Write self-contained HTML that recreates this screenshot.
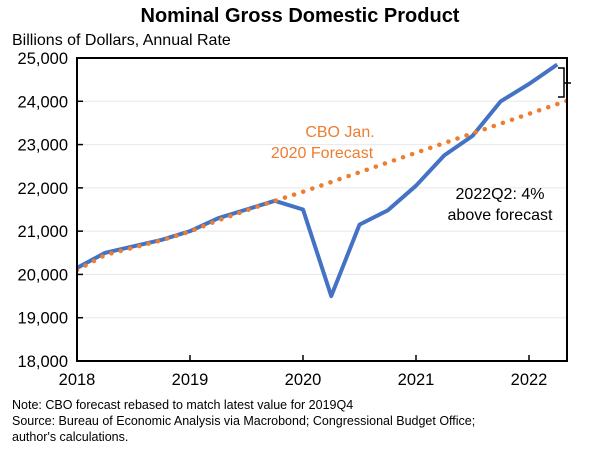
<!DOCTYPE html>
<html><head><meta charset="utf-8"><style>
body{margin:0;background:#fff;font-family:"Liberation Sans",sans-serif}
svg text{font-family:"Liberation Sans",sans-serif}
</style></head><body>
<svg id="c" width="601" height="451" xmlns="http://www.w3.org/2000/svg">
<text x="300" y="22" text-anchor="middle" font-size="20" font-weight="bold">Nominal Gross Domestic Product</text>
<text x="12" y="45" font-size="16">Billions of Dollars, Annual Rate</text>
<g id="grid"></g>
<defs><clipPath id="cp"><rect x="77" y="40" width="490" height="330"/></clipPath></defs>
<g id="marks" clip-path="url(#cp)"></g>
<g id="ax"></g>
<text x="340" y="137" text-anchor="middle" font-size="16" fill="#ED7D31"><tspan x="340">CBO Jan.</tspan><tspan x="322" dy="21">2020 Forecast</tspan></text>
<text x="500" y="199" text-anchor="middle" font-size="16"><tspan x="500">2022Q2: 4%</tspan><tspan x="500" dy="21">above forecast</tspan></text>
<path d="M558 68 L564 68 L564 97 L558 97 M564 83 L571 83" fill="none" stroke="#000" stroke-width="1.5"/>
<text x="12" y="409" font-size="12.5">Note: CBO forecast rebased to match latest value for 2019Q4</text>
<text x="12" y="425" font-size="12.5">Source: Bureau of Economic Analysis via Macrobond; Congressional Budget Office;</text>
<text x="12" y="441" font-size="12.5">author's calculations.</text>
</svg>
<script>
const yTicks=[18000,19000,20000,21000,22000,23000,24000,25000];
const xTicks=[2018,2019,2020,2021,2022];
const actual=[20150,20500,20650,20800,21000,21300,21500,21700,21500,19500,21150,21480,22050,22750,23200,24000,24400,24850];
const forecast=[20100,20450,20620,20790,20990,21250,21480,21700,21910,22135,22360,22585,22810,23035,23260,23485,23710,23935,24160];
const x=t=>77+(t-2018)*113, y=v=>361-(v-18000)*(303/7000);
const NS="http://www.w3.org/2000/svg";
function mk(tag,at,parent){const e=document.createElementNS(NS,tag);for(const k in at)e.setAttribute(k,at[k]);document.getElementById(parent).appendChild(e);return e;}
let e=mk('rect',{x:77,y:y(25000),width:490,height:361-y(25000),fill:'none',stroke:'#000','stroke-width':2},'ax');

yTicks.forEach(v=>{
 e=mk('line',{x1:77,y1:y(v),x2:567,y2:y(v),stroke:'#e8e8e8','stroke-width':1},'grid');
 
 e=mk('line',{x1:77,y1:y(v),x2:83,y2:y(v),stroke:'#000','stroke-width':1.5},'ax');
 
 e=mk('text',{x:68,y:y(v)+6,'text-anchor':'end','font-size':16.5},'ax');e.textContent=v.toLocaleString('en-US');
 
});
xTicks.forEach(t=>{
 e=mk('line',{x1:x(t),y1:361,x2:x(t),y2:355,stroke:'#000','stroke-width':1.5},'ax');
 
 e=mk('text',{x:x(t),y:385,'text-anchor':'middle','font-size':16.5},'ax');e.textContent=t;
 
});
const pts=a=>a.map((v,i)=>x(2018+i/4)+','+y(v)).join(' ');
e=mk('polyline',{points:pts(actual),fill:'none',stroke:'#4472C4','stroke-width':4,'stroke-linejoin':'round'},'marks');

e=mk('polyline',{points:pts(forecast),fill:'none',stroke:'#ED7D31','stroke-width':4.5,'stroke-dasharray':'0.1 9.5','stroke-linecap':'round'},'marks');

</script>
</body></html>
